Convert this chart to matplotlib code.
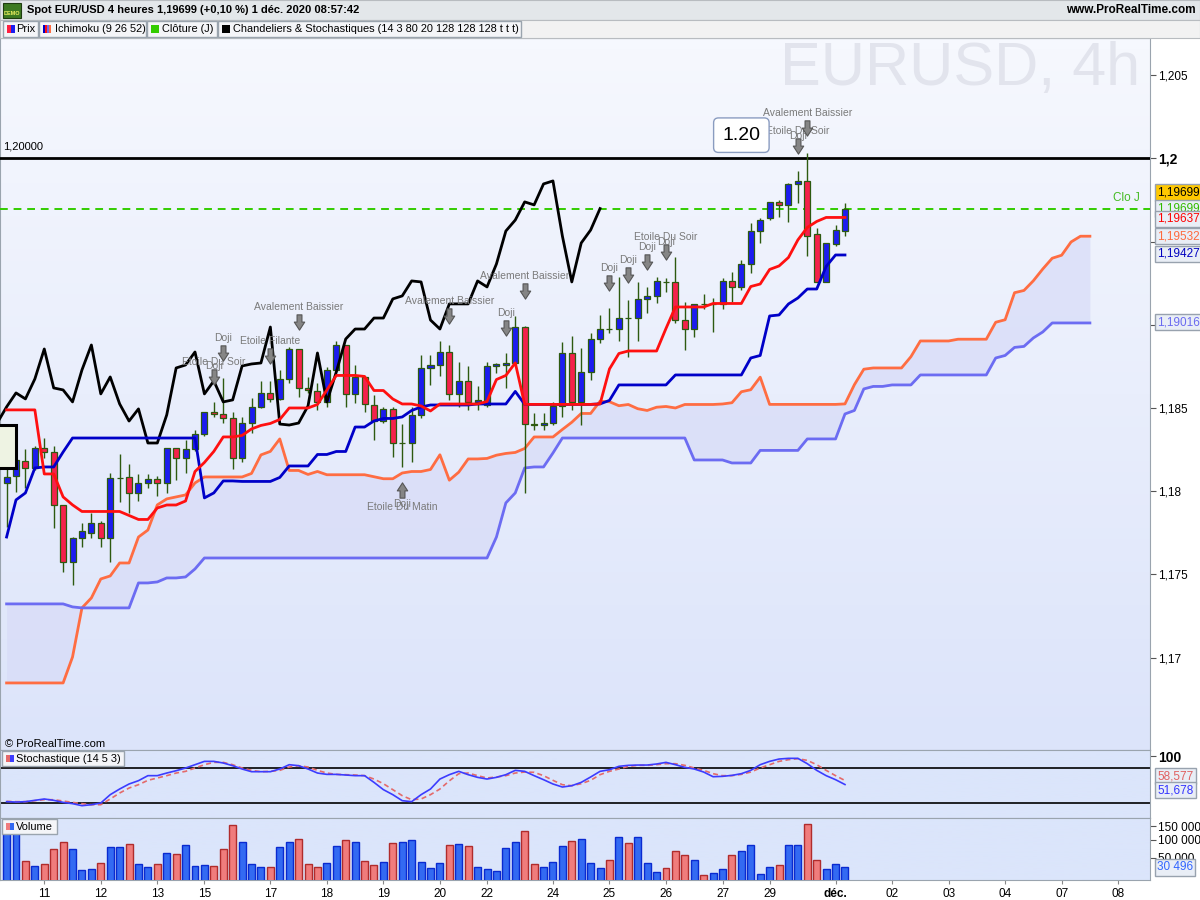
import numpy as np
import matplotlib
matplotlib.use('Agg')
import matplotlib.pyplot as plt
import matplotlib.transforms as mtrans
from matplotlib.patches import Rectangle
from matplotlib.path import Path
from matplotlib.colors import LinearSegmentedColormap

plt.rcParams['font.family'] = ['Liberation Sans', 'DejaVu Sans']

# ---- bougies 4h EUR/USD ----
opens = [1.18050, 1.18092, 1.18182, 1.18140, 1.18260, 1.18236, 1.17918, 1.17575, 1.17719, 1.17749,
         1.17809, 1.17719, 1.18078, 1.18086, 1.17990, 1.18050, 1.18074, 1.18050, 1.18260, 1.18200,
         1.18254, 1.18344, 1.18477, 1.18465, 1.18440, 1.18200, 1.18410, 1.18507, 1.18591, 1.18555,
         1.18675, 1.18855, 1.18621, 1.18603, 1.18537, 1.18729, 1.18879, 1.18585, 1.18687, 1.18519,
         1.18422, 1.18495, 1.18288, 1.18290, 1.18459, 1.18741, 1.18759, 1.18837, 1.18585, 1.18663,
         1.18537, 1.18519, 1.18753, 1.18759, 1.18771, 1.18987, 1.18404, 1.18398, 1.18410, 1.18513,
         1.18831, 1.18537, 1.18717, 1.18915, 1.18977, 1.18975, 1.19043, 1.19041, 1.19156, 1.19174,
         1.19260, 1.19258, 1.19029, 1.18975, 1.19128, 1.19124, 1.19126, 1.19264, 1.19228, 1.19366,
         1.19564, 1.19642, 1.19739, 1.19721, 1.19847, 1.19865, 1.19546, 1.19258, 1.19486, 1.19564]
highs = [1.18188, 1.18236, 1.18254, 1.18272, 1.18320, 1.18272, 1.17918, 1.17725, 1.17809, 1.17869,
         1.17821, 1.18110, 1.18224, 1.18164, 1.18104, 1.18104, 1.18092, 1.18260, 1.18260, 1.18308,
         1.18368, 1.18477, 1.18537, 1.18681, 1.18477, 1.18446, 1.18561, 1.18663, 1.18663, 1.18729,
         1.18867, 1.18855, 1.18687, 1.18651, 1.18747, 1.18903, 1.18879, 1.18759, 1.18687, 1.18579,
         1.18507, 1.18507, 1.18404, 1.18507, 1.18819, 1.18819, 1.18903, 1.18879, 1.18777, 1.18753,
         1.18633, 1.18777, 1.18771, 1.18831, 1.19054, 1.18993, 1.18471, 1.18471, 1.18537, 1.18897,
         1.18933, 1.18861, 1.18951, 1.19060, 1.19102, 1.19288, 1.19150, 1.19258, 1.19228, 1.19288,
         1.19282, 1.19408, 1.19138, 1.19126, 1.19186, 1.19162, 1.19282, 1.19318, 1.19390, 1.19612,
         1.19642, 1.19739, 1.19751, 1.19853, 1.19925, 1.20033, 1.19582, 1.19492, 1.19600, 1.19733]
lows = [1.17785, 1.17996, 1.18020, 1.18128, 1.18200, 1.17779, 1.17515, 1.17437, 1.17665, 1.17719,
        1.17665, 1.17575, 1.17936, 1.17869, 1.17942, 1.18020, 1.17972, 1.17990, 1.18068, 1.18110,
        1.18242, 1.18332, 1.18446, 1.18410, 1.18134, 1.18176, 1.18350, 1.18501, 1.18537, 1.18549,
        1.18651, 1.18567, 1.18591, 1.18489, 1.18507, 1.18717, 1.18507, 1.18531, 1.18477, 1.18308,
        1.18410, 1.18206, 1.18146, 1.18176, 1.18440, 1.18639, 1.18693, 1.18549, 1.18507, 1.18489,
        1.18489, 1.18507, 1.18711, 1.18621, 1.18759, 1.17990, 1.18368, 1.18368, 1.18398, 1.18446,
        1.18489, 1.18398, 1.18669, 1.18891, 1.18951, 1.18903, 1.18807, 1.18903, 1.19072, 1.19132,
        1.19198, 1.19011, 1.18849, 1.18927, 1.19096, 1.18957, 1.19096, 1.19138, 1.19210, 1.19312,
        1.19492, 1.19630, 1.19648, 1.19618, 1.19733, 1.19414, 1.19258, 1.19258, 1.19474, 1.19534]
closes = [1.18086, 1.18188, 1.18140, 1.18260, 1.18236, 1.17918, 1.17575, 1.17719, 1.17761, 1.17809,
          1.17719, 1.18080, 1.18080, 1.17990, 1.18050, 1.18074, 1.18050, 1.18260, 1.18200, 1.18254,
          1.18344, 1.18477, 1.18465, 1.18440, 1.18200, 1.18410, 1.18507, 1.18591, 1.18555, 1.18675,
          1.18855, 1.18621, 1.18609, 1.18537, 1.18729, 1.18879, 1.18585, 1.18687, 1.18525, 1.18422,
          1.18495, 1.18290, 1.18290, 1.18459, 1.18741, 1.18759, 1.18837, 1.18585, 1.18663, 1.18537,
          1.18549, 1.18753, 1.18765, 1.18771, 1.18987, 1.18404, 1.18398, 1.18410, 1.18513, 1.18831,
          1.18537, 1.18717, 1.18915, 1.18975, 1.18975, 1.19041, 1.19041, 1.19156, 1.19174, 1.19264,
          1.19258, 1.19029, 1.18975, 1.19126, 1.19126, 1.19126, 1.19264, 1.19228, 1.19366, 1.19564,
          1.19630, 1.19739, 1.19721, 1.19847, 1.19865, 1.19534, 1.19258, 1.19492, 1.19570, 1.19699]
volumes = [130000, 130000, 43900, 33600, 36900, 73200, 94300, 73200, 25800, 27500,
           38900, 78900, 78900, 88000, 36900, 31100, 36900, 62300, 59700, 84900,
           33000, 34900, 33000, 73200, 152700, 94300, 36900, 31100, 31100, 78900,
           94300, 104200, 36900, 31100, 38900, 81900, 100900, 94300, 43200, 34900,
           41000, 91100, 94300, 100900, 41000, 29300, 38900, 84900, 88000, 81900,
           31100, 27500, 24100, 76000, 94300, 132900, 36900, 31100, 41000, 81900,
           97500, 104200, 38900, 29300, 45300, 111100, 91100, 111100, 38900, 22600,
           29300, 67600, 57200, 45300, 18100, 21000, 27500, 57200, 67600, 84900,
           19500, 31100, 34900, 84900, 84900, 156800, 45300, 27500, 36900, 30496]

# stochastique (14 5 3)
stoch_k = [22.3, 21.7, 22.3, 24.6, 26.9, 24.6, 21.1, 18.9, 15.4, 17.1,
           20.0, 34.3, 44.0, 52.6, 58.3, 66.9, 66.9, 71.4, 75.4, 80.0,
           85.7, 91.4, 91.4, 88.6, 84.0, 78.3, 73.7, 73.7, 73.7, 78.3,
           85.7, 84.0, 78.3, 71.4, 69.1, 69.1, 68.0, 66.9, 66.9, 55.4,
           42.9, 34.3, 24.0, 22.3, 34.3, 44.0, 61.1, 68.6, 74.3, 68.6,
           64.0, 61.1, 64.0, 68.6, 76.0, 74.3, 66.9, 60.0, 52.6, 47.4,
           49.7, 55.4, 64.6, 74.3, 77.1, 82.9, 84.6, 85.1, 85.1, 86.9,
           89.7, 85.7, 81.1, 78.3, 73.1, 65.1, 65.7, 67.4, 70.3, 76.0,
           85.7, 91.4, 95.4, 96.6, 96.6, 87.4, 76.0, 66.9, 60.0, 51.678]
stoch_d = [22.9, 22.3, 22.3, 24.0, 25.7, 25.7, 23.4, 21.1, 18.9, 17.1,
           17.1, 26.9, 37.1, 45.7, 51.4, 58.9, 62.9, 66.9, 71.4, 74.3,
           80.0, 85.7, 89.7, 89.7, 85.7, 80.0, 76.0, 73.7, 74.3, 76.0,
           81.7, 84.0, 81.7, 76.0, 71.4, 69.1, 68.6, 68.0, 66.9, 61.1,
           53.1, 42.9, 32.6, 25.7, 26.9, 34.3, 44.0, 58.0, 70.3, 71.4,
           66.9, 62.9, 64.6, 66.9, 71.4, 73.1, 72.6, 66.9, 58.9, 51.4,
           49.7, 53.1, 58.9, 68.6, 74.3, 78.3, 82.9, 84.6, 84.6, 85.7,
           87.4, 87.4, 84.6, 80.0, 76.0, 70.3, 66.9, 66.9, 69.1, 73.1,
           80.0, 85.7, 91.4, 94.3, 96.0, 93.1, 85.7, 76.0, 66.9, 58.577]

# debut des lignes ichimoku (historique hors ecran)
tenkan_early = [1.18489, 1.18489, 1.18489, 1.18489, 1.18104, 1.18104, 1.17966, 1.17918]
kijun_early = [1.17725, 1.17948, 1.17990, 1.18140, 1.18146, 1.18146, 1.18236] + [1.18320] * 14 + \
              [1.17960, 1.17990, 1.18062, 1.18062]
ssa_early = [1.16848] * 7 + [1.17004, 1.17299, 1.17359, 1.17473, 1.17491, 1.17569, 1.17569,
                              1.17725, 1.17767, 1.17918, 1.17954, 1.17966, 1.17978, 1.18050] + [1.18086] * 5
ssb_early = [1.17323] * 7 + [1.17305] + [1.17299] * 6 + [1.17449] * 2 + [1.17455] + [1.17479] * 2 + \
            [1.17485, 1.17533] + [1.17599] * 31 + [1.17725, 1.17930, 1.17990, 1.18140] + [1.18146] * 2 + \
            [1.18230] + [1.18320] * 14 + [1.18188] * 4

# figures de chandeliers : (bougie, libelles, nb bougies, vers le haut)
patterns = [
    (22, ['Etoile Du Soir', 'Doji'], 3, False),
    (23, ['Doji'], 1, False),
    (28, ['Etoile Filante'], 1, False),
    (31, ['Avalement Baissier'], 2, False),
    (42, ['Etoile Du Matin', 'Doji'], 3, True),
    (47, ['Avalement Baissier'], 2, False),
    (53, ['Doji'], 1, False),
    (55, ['Avalement Baissier'], 2, False),
    (64, ['Doji'], 1, False),
    (66, ['Doji'], 1, False),
    (68, ['Doji'], 1, False),
    (70, ['Etoile Du Soir', 'Doji'], 3, False),
    (84, ['Etoile Du Soir', 'Doji'], 3, False),
    (85, ['Avalement Baissier'], 2, False),
]

day_ticks = [4, 10, 16, 21, 28, 34, 40, 46, 51, 58, 64, 70, 76, 81, 88, 94, 100, 106, 112, 118]
day_labels = ['11', '12', '13', '15', '17', '18', '19', '20', '22', '24', '25', '26', '27', '29',
              'déc.', '02', '03', '04', '07', '08']
# 1,19 et 1,195 sont caches par les etiquettes de valeurs
price_ticks = [1.17, 1.175, 1.18, 1.185, 1.19, 1.195, 1.2, 1.205]
price_labels = ['1,17', '1,175', '1,18', '1,185', '', '', '1,2', '1,205']
axis_boxes = [('1,19699', '#33bb00'), ('1,19637', '#ff0000'), ('1,19532', '#ff6a3d'),
              ('1,19427', '#0000c0'), ('1,19016', '#6a6af0')]

# ---- calculs ichimoku ----
o = np.array(opens); h = np.array(highs); l = np.array(lows); c = np.array(closes)
n = len(c)
idx = np.arange(n)
tenkan = np.array([tenkan_early[i] if i < 8 else (h[i-8:i+1].max() + l[i-8:i+1].min()) / 2
                   for i in range(n)])
kijun = np.array([kijun_early[i] if i < 25 else (h[i-25:i+1].max() + l[i-25:i+1].min()) / 2
                  for i in range(n)])
fut = np.arange(n + 26)
ssa = np.array([ssa_early[i] if i < 26 else (tenkan[i-26] + kijun[i-26]) / 2 for i in fut])
ssb = np.array([ssb_early[i] if i < 77 else (h[i-77:i-25].max() + l[i-77:i-25].min()) / 2
                for i in fut])

W, H = 1200.0, 900.0
fig = plt.figure(figsize=(12, 9), dpi=100)
fig.patch.set_facecolor('white')


def px_rect(x0, y0, x1, y1, **kw):
    r = Rectangle((x0 / W, 1 - y1 / H), (x1 - x0) / W, (y1 - y0) / H,
                  transform=fig.transFigure, **kw)
    fig.add_artist(r)
    return r


def backdrop(a, top, bottom):
    cm = LinearSegmentedColormap.from_list('g', [bottom, top])
    a.imshow(np.linspace(0, 1, 64).reshape(-1, 1), cmap=cm, aspect='auto', origin='lower',
             extent=(0, 1, 0, 1), transform=a.transAxes, zorder=0)


def off(a, dy, trans=None):
    return mtrans.offset_copy(trans if trans is not None else a.transData,
                              fig=fig, x=0, y=dy, units='points')


ax = fig.add_axes([0, 1 - 750 / H, 1150 / W, 712 / H])
ax_s = fig.add_axes([0, 1 - 818 / H, 1150 / W, 68 / H], sharex=ax)
ax_v = fig.add_axes([0, 1 - 880 / H, 1150 / W, 62 / H], sharex=ax)

backdrop(ax, '#f6f8fe', '#dce4fa')
backdrop(ax_s, '#dbe5fb', '#dbe5fb')
backdrop(ax_v, '#dbe5fb', '#dbe5fb')

for a in (ax, ax_s, ax_v):
    for sp in a.spines.values():
        sp.set_color('#9aa4ae')
    a.yaxis.tick_right()
    a.tick_params(axis='y', direction='out', length=4, colors='#555555', labelcolor='black',
                  labelsize=8.5, pad=2)
    a.tick_params(axis='x', bottom=False, labelbottom=False)

# ---- panneau prix ----
ax.text(0.835, (750 - 85) / 712, 'EURUSD, 4h', transform=ax.transAxes, fontsize=44,
        color='#e2e4ed', ha='center', va='baseline', zorder=0.5)

ax.fill_between(fut, ssa, ssb, color='#d8dcf8', alpha=0.75, lw=0, zorder=1)
ax.plot(fut, ssa, color='#ff6d42', lw=2, zorder=2)
ax.plot(fut, ssb, color='#6c6cf2', lw=2, zorder=2)

tr_p = mtrans.blended_transform_factory(ax.transAxes, ax.transData)
ax.axhline(1.2, color='black', lw=2, zorder=3)
ax.text(0.003, 1.2, '1,20000', transform=off(ax, 5, tr_p), fontsize=8, va='bottom', ha='left')
ax.axhline(c[-1], color='#33cc00', lw=1.4, ls=(0, (4, 3)), zorder=3)
ax.text(0.991, c[-1], 'Clo J', transform=off(ax, 3, tr_p),
        fontsize=8.5, color='#44bb22', ha='right', va='bottom')

bull = c >= o
edge = '#2d5a10'
ax.vlines(idx, l, h, color=edge, lw=1, zorder=4)
ax.bar(idx, np.maximum(np.abs(c - o), 0.00001), bottom=np.minimum(o, c), width=0.64,
       color=np.where(bull, '#1c1cf0', '#f5214b'), edgecolor=edge, lw=0.9, zorder=5)

ax.plot(idx - 26, c, color='black', lw=2, zorder=6)
ax.plot(idx, kijun, color='#0000c8', lw=2, zorder=6)
ax.plot(idx, tenkan, color='#ff1010', lw=2, zorder=6)

# fleches des figures
down = Path([(-0.32, 1), (0.32, 1), (0.32, 0.05), (0.68, 0.05), (0, -1), (-0.68, 0.05), (-0.32, 0.05), (-0.32, 1)],
            [Path.MOVETO] + [Path.LINETO] * 6 + [Path.CLOSEPOLY])
up = Path([(x, -y) for x, y in down.vertices], down.codes)
for i, names, span, is_up in patterns:
    if is_up:
        base = l[i - span + 1:i + 1].min()
        ax.plot(i, base, marker=up, ms=11, color='#858585', mec='#555555', mew=0.8,
                transform=off(ax, -16.5), zorder=8)
        for k, name in enumerate(names):
            ax.text(i, base, name, transform=off(ax, -28.5 + 1.5 * k), fontsize=7.5, color='#7a7a7a',
                    ha='center', va='center', zorder=8)
    else:
        base = h[i - span + 1:i + 1].max()
        ax.plot(i, base, marker=down, ms=11, color='#858585', mec='#555555', mew=0.8,
                transform=off(ax, 18), zorder=8)
        for k, name in enumerate(names):
            ax.text(i, base, name, transform=off(ax, 28.5 - 3 * k), fontsize=7.5, color='#7a7a7a',
                    ha='center', va='center', zorder=8)

ax.text(78, 1.2014, '1.20', fontsize=14, ha='center', va='center', zorder=9,
        bbox=dict(boxstyle='round,pad=0.45,rounding_size=0.25', fc='white', ec='#8a9cc0', lw=1))

ax.add_patch(Rectangle((-0.005, (750 - 468) / 712), 0.019, 43 / 712, transform=ax.transAxes,
                       fc='#eef3e3', ec='black', lw=2.2, zorder=9, clip_on=False))
ax.text(0.004, 6 / 712, '© ProRealTime.com', transform=ax.transAxes, fontsize=8, va='center', zorder=9)

ax.set_yticks(price_ticks)
ax.set_yticklabels(price_labels)
for t, v in zip(ax.get_yticklabels(), price_ticks):
    if abs(v - 1.2) < 1e-9:
        t.set_fontweight('bold')
        t.set_fontsize(10)

box_kw = dict(boxstyle='square,pad=0.18', fc='#e9eef6', ec='#98a2ae', lw=1)
ax.text(1.0062, c[-1], '1,19699', transform=off(ax, 11.5, tr_p), fontsize=8.5, color='black',
        va='center', ha='left', clip_on=False, zorder=10,
        bbox=dict(boxstyle='square,pad=0.18', fc='#ffc800', ec='#98a2ae', lw=1))
for txt, col in axis_boxes:
    ax.text(1.0062, float(txt.replace(',', '.')), txt, transform=tr_p, fontsize=8.5, color=col,
            va='center', ha='left', clip_on=False, zorder=10, bbox=box_kw)

# ---- stochastique ----
ax_s.axhline(80, color='black', lw=1.2, zorder=2)
ax_s.axhline(20, color='black', lw=1.2, zorder=2)
ax_s.plot(idx, stoch_d, color='#e46a6a', lw=1.2, ls=(0, (3, 2)), zorder=3)
ax_s.plot(idx, stoch_k, color='#3c3cff', lw=1.2, zorder=4)
ax_s.set_yticks([100])
ax_s.set_yticklabels(['100'], fontweight='bold', fontsize=10)
tr_s = mtrans.blended_transform_factory(ax_s.transAxes, ax_s.transData)
ax_s.text(1.0062, stoch_d[-1], '58,577', transform=off(ax_s, 3.2, tr_s), fontsize=8.5, color='#e06060',
          va='center', ha='left', clip_on=False, zorder=10, bbox=box_kw)
ax_s.text(1.0062, stoch_k[-1], '51,678', transform=off(ax_s, -4, tr_s), fontsize=8.5, color='#3333ff',
          va='center', ha='left', clip_on=False, zorder=10, bbox=box_kw)
ax_s.set_ylim(-5.7, 110.9)

# ---- volume ----
ax_v.set_yscale('function', functions=(lambda v: np.sqrt(np.clip(v, 0, None)), np.square))
ax_v.bar(idx, volumes, width=0.74, color=np.where(bull, '#336af2', '#f07c7c'),
         edgecolor=np.where(bull, '#0a2ad0', '#b02c2c'), lw=1, zorder=3)
ax_v.set_yticks([50000, 100000, 150000])
ax_v.set_yticklabels(['50 000', '100 000', '150 000'])
tr_v = mtrans.blended_transform_factory(ax_v.transAxes, ax_v.transData)
ax_v.text(1.0062, volumes[-1], '30 496', transform=tr_v, fontsize=8.5, color='#3366ff',
          va='center', ha='left', clip_on=False, zorder=10, bbox=box_kw)
ax_v.set_ylim(12100, 184200)
ax_v.tick_params(axis='x', bottom=True, labelbottom=True, direction='out', length=3,
                 colors='#888888', labelcolor='black', labelsize=8.5, pad=3)
ax_v.set_xticks(day_ticks)
ax_v.set_xticklabels(day_labels)
for t in ax_v.get_xticklabels():
    if t.get_text() == 'déc.':
        t.set_fontweight('bold')

ax.set_xlim(-0.70, 121.38)
ax.set_ylim(1.16445, 1.20724)

# ---- bandeaux ----
px_rect(0, 0, 1200, 20, fc='#e3e7ea', ec='#b8bcc0', lw=0.8, zorder=10)
px_rect(0, 20, 1200, 38, fc='#f2f2f2', ec='#b8bcc0', lw=0.8, zorder=10)
px_rect(3, 3, 21, 18, fc='#3d7a22', ec='#1e3d10', lw=0.8, zorder=11)
fig.text(12 / W, 1 - 13.5 / H, 'DEMO', fontsize=4, color='#eef060', weight='bold',
         ha='center', va='center', zorder=12)
fig.text(27 / W, 1 - 10 / H, 'Spot EUR/USD 4 heures 1,19699 (+0,10 %) 1 déc. 2020 08:57:42',
         fontsize=8, weight='bold', va='center', zorder=12)
fig.text(1196 / W, 1 - 10 / H, 'www.ProRealTime.com', fontsize=8.5, weight='bold',
         ha='right', va='center', zorder=12)


def chip(x0, x1, y0, y1, text, colors, tx):
    px_rect(x0, y0, x1, y1, fc='#f4f5f8', ec='#9aa4ae', lw=1, zorder=20)
    w = 8.0 / len(colors)
    for k, col in enumerate(colors):
        px_rect(x0 + 4 + k * w, y0 + 4, x0 + 4 + (k + 1) * w, y1 - 4, fc=col, ec='none', zorder=21)
    fig.text(tx / W, 1 - (y0 + y1) / 2 / H, text, fontsize=7.9, va='center', ha='left', zorder=22)


chip(3, 38, 21, 37, 'Prix', ['#ff2040', '#1c1cf0'], 16)
chip(39, 146, 21, 37, 'Ichimoku (9 26 52)', ['#0000c8', '#ff1010', '#6c6cf2', '#ff6d42'], 55)
chip(147, 217, 21, 37, 'Clôture (J)', ['#33cc00'], 162)
chip(218, 521, 21, 37, 'Chandeliers & Stochastiques (14 3 80 20 128 128 128 t t t)', ['black'], 233)
chip(2, 124, 751, 766, 'Stochastique (14 5 3)', ['#e46a6a', '#3c3cff'], 16)
chip(2, 57, 819, 834, 'Volume', ['#f07c7c', '#336af2'], 16)

fig.savefig('out.png', dpi=100)
